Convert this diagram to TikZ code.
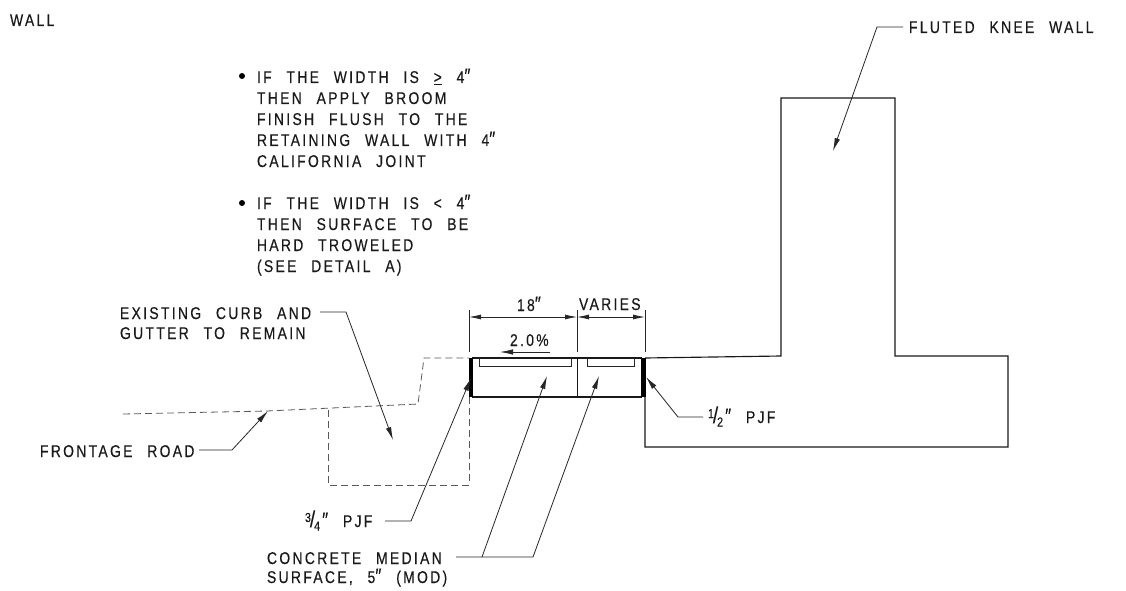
\documentclass[tikz,border=0pt]{standalone}
\usepackage{fontspec}
\setmainfont[LetterSpace=13.5,FakeStretch=0.82,WordSpace=2.4,FakeBold=0.3]{Liberation Sans}
\usetikzlibrary{arrows.meta}
\newcommand{\fr}[2]{\raisebox{5pt}{\fontsize{13}{13}\selectfont #1}\kern-1pt{\fontsize{23}{23}\selectfont /}\kern-1pt\raisebox{-3.5pt}{\fontsize{13}{13}\selectfont #2}\kern2pt}
\newcommand{\dq}{{\fontsize{21}{21}\selectfont ″}}
\tikzset{
  x=1pt,y=-1pt,
  lbl/.style={anchor=base west,inner sep=0pt,outer sep=0pt,font=\fontsize{17}{17}\selectfont,text=black!90},
  solidline/.style={line width=1.15pt,black!90,line join=miter},
  hidden/.style={line width=0.8pt,black!65,dash pattern=on 7pt off 4pt},
  leader/.style={line width=0.8pt,black!85,-{Latex[length=13pt,width=5.5pt]}},
  dimline/.style={line width=0.8pt,black!85},
  dimarrow/.style={line width=0.8pt,black!85,{Latex[length=12pt,width=5pt]}-{Latex[length=12pt,width=5pt]}},
  joint/.style={fill=black,draw=none},
  dotb/.style={circle,fill=black,inner sep=0pt,minimum size=6pt}
}
\begin{document}
\begin{tikzpicture}
\useasboundingbox (0,0) rectangle (1126,591);
% named points
\coordinate (k1) at (781,356);\coordinate (k2) at (781,98);\coordinate (k3) at (895,98);
\coordinate (k4) at (895,356);\coordinate (k5) at (1008,356);\coordinate (k6) at (1008,447);
\coordinate (k7) at (645,447);\coordinate (k8) at (645,358);
% wall
\draw[solidline] (k8) -- (k1) -- (k2) -- (k3) -- (k4) -- (k5) -- (k6) -- (k7) -- (k8);
% median
\coordinate (m1) at (472,358);\coordinate (m2) at (642,358);\coordinate (m3) at (642,397);\coordinate (m4) at (472,397);
\draw[solidline] (m1) -- (m2);
\draw[solidline] (m4) -- (m3);
\coordinate (d1) at (577,358);\coordinate (d2) at (577,397);
\draw[line width=1pt,black!90] (d1) -- (d2);
\fill[joint] (469,358) rectangle (473,397);
\fill[joint] (641,358) rectangle (646,397);
\draw[line width=1pt,black!85] (479,358) -- (479,366) -- (571,366) -- (571,358);
\draw[line width=1pt,black!85] (587,358) -- (587,366) -- (634,366) -- (634,358);
% existing dashed
\draw[hidden] (123,414) -- (267,411) -- (418,404) -- (424,358) -- (469,358);
\draw[hidden] (328,410) -- (328,485) -- (469,485) -- (469,397);
% dimensions
\coordinate (e1) at (469,310);\coordinate (e1b) at (469,352);
\coordinate (e2) at (577,310);\coordinate (e2b) at (577,352);
\coordinate (e3) at (645,310);\coordinate (e3b) at (645,352);
\draw[dimline] (e1) -- (e1b);
\draw[dimline] (e2) -- (e2b);
\draw[dimline] (e3) -- (e3b);
\coordinate (a1) at (469,317);\coordinate (a2) at (577,317);\coordinate (a3) at (645,317);
\draw[dimarrow] (a1) -- (a2);
\draw[dimarrow] (a2) -- (a3);
\coordinate (s1) at (550,352);\coordinate (s2) at (500,352);
\draw[leader] (s1) -- (s2);
% labels
\node[lbl] (wall) at (10,26) {WALL};
\node[lbl] (fluted) at (909,33) {FLUTED KNEE WALL};
\node[dotb] (b1) at (242,76) {};
\node[lbl] (n1) at (257,83) {IF THE WIDTH IS \underline{>} 4\dq};
\node[lbl] (n2) at (257,104) {THEN APPLY BROOM};
\node[lbl] (n3) at (257,125) {FINISH FLUSH TO THE};
\node[lbl] (n4) at (257,146) {RETAINING WALL WITH 4\dq};
\node[lbl] (n5) at (257,167) {CALIFORNIA JOINT};
\node[dotb] (b2) at (242,203) {};
\node[lbl] (n6) at (257,209) {IF THE WIDTH IS < 4\dq};
\node[lbl] (n7) at (257,230) {THEN SURFACE TO BE};
\node[lbl] (n8) at (257,251) {HARD TROWELED};
\node[lbl] (n9) at (257,272) {(SEE DETAIL A)};
\node[lbl] (ex1) at (120,319) {EXISTING CURB AND};
\node[lbl] (ex2) at (120,339) {GUTTER TO REMAIN};
\node[lbl] (fr) at (40,457) {FRONTAGE ROAD};
\node[lbl] (dim18) at (517,311) {18\dq};
\node[lbl] (var) at (579,310) {VARIES};
\node[lbl] (pct) at (510,346) {2.0\%};
\node[lbl] (half) at (708,423) {\fr{1}{2}\dq\ PJF};
\node[lbl] (tq) at (305,527) {\fr{3}{4}\dq\ PJF};
\node[lbl] (cm1) at (267,564) {CONCRETE MEDIAN};
\node[lbl] (cm2) at (267,583) {SURFACE, 5\dq\ (MOD)};
% leaders
\coordinate (fl0) at (903,27);\coordinate (fl1) at (877,27);\coordinate (fl2) at (833,151);
\draw[leader] (fl0) -- (fl1) -- (fl2);
\coordinate (ec0) at (320,312);\coordinate (ec1) at (346,312);\coordinate (ec2) at (393,440);
\draw[leader] (ec0) -- (ec1) -- (ec2);
\coordinate (fr0) at (199,450);\coordinate (fr1) at (232,450);\coordinate (fr2) at (268,411);
\draw[leader] (fr0) -- (fr1) -- (fr2);
\coordinate (tq0) at (385,521);\coordinate (tq1) at (411,521);\coordinate (tq2) at (471,378);
\draw[leader] (tq0) -- (tq1) -- (tq2);
\coordinate (hf0) at (703,417);\coordinate (hf1) at (678,417);\coordinate (hf2) at (646,377);
\draw[leader] (hf0) -- (hf1) -- (hf2);
\coordinate (cm0) at (456,557);\coordinate (cmb) at (482,557);\coordinate (cme) at (533,557);
\coordinate (cmt1) at (547,376);\coordinate (cmt2) at (599,376);
\draw[leader] (cm0) -- (cme) -- (cmt2);
\draw[leader] (cmb) -- (cmt1);
\end{tikzpicture}
\end{document}
